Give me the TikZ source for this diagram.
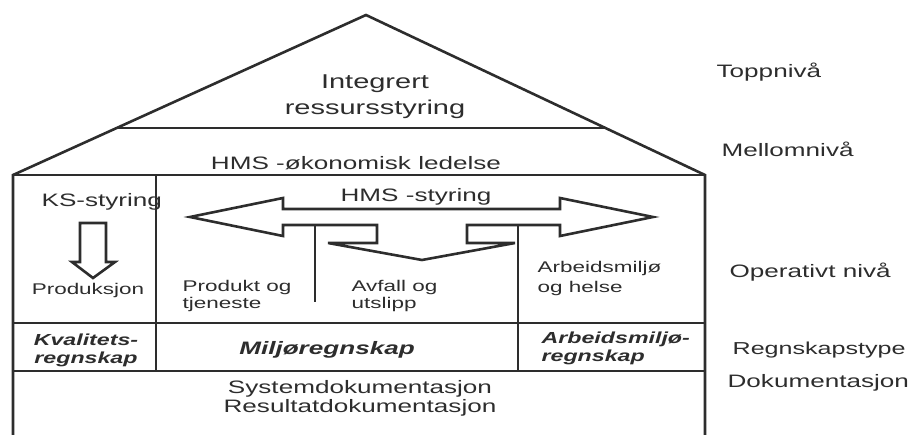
\documentclass[tikz,border=0pt]{standalone}
\usepackage{fontspec}
\setmainfont{Liberation Sans}[FakeStretch=1.45]
\usepackage{tikz}
\usetikzlibrary{calc}
\definecolor{inkgray}{RGB}{45,45,45}

\begin{document}
\begin{tikzpicture}[x=1pt, y=-1pt, color=inkgray, line width=2.6pt,
  big/.style={font=\fontsize{20}{26}\selectfont, align=center, anchor=base},
  lbl/.style={font=\fontsize{18}{19}\selectfont, anchor=base},
  sml/.style={font=\fontsize{15.5}{17}\selectfont, align=left, anchor=base west},
  acct/.style={font=\fontsize{16}{18.5}\bfseries\itshape\selectfont, anchor=base}]
  \useasboundingbox (0,0) rectangle (911,435);
  \coordinate (apex) at (366,15);
  \coordinate (eaveL) at (13,175);
  \coordinate (eaveR) at (705,175);
  \draw (13,435) -- (eaveL) -- (apex) -- (eaveR) -- (705,435);
  \draw ($(apex)!0.706!(eaveL)$) -- ($(apex)!0.706!(eaveR)$);
  \draw (eaveL) -- (eaveR);
  \foreach \y in {323,371} \draw (13,\y) -- (705,\y);
  \draw (156,175) -- (156,371);
  \node[big] (integ) at (375,115) {Integrert\\ressursstyring};
  \node[lbl] (okled) at (356,170) {HMS -økonomisk ledelse};
  \node[lbl, anchor=base west] (ksstyr) at (37,207) {KS-styring};
  \draw (80,223) -- (106,223) -- (106,262) -- (115,262) -- (93,278) -- (72,262) -- (80,262) -- cycle;
  \node[sml, anchor=base] (prod) at (88,295) {Produksjon};
  \node[lbl] (hmsstyr) at (416,202) {HMS -styring};
  \draw (190,217) -- (283,198) -- (283,209) -- (560,209) -- (560,198) -- (653,217)
    -- (560,236) -- (560,225) -- (467,225) -- (467,243) -- (515,243) -- (422,260)
    -- (328,243) -- (377,243) -- (377,225) -- (283,225) -- (283,236) -- cycle;
  \draw (315,225) -- (315,302);
  \draw (518,225) -- (518,371);
  \node[sml] (prodtj) at (178,309) {Produkt og\\tjeneste};
  \node[sml] (avfall) at (347,309) {Avfall og\\utslipp};
  \node[sml, font=\fontsize{15.5}{20}\selectfont] (amhelse) at (533,293) {Arbeidsmiljø\\og helse};
  \node[acct, align=center] (ksregn) at (86,364) {Kvalitets-\\regnskap};
  \node[acct, font=\fontsize{18}{20}\bfseries\itshape\selectfont] (miljregn) at (327,355) {Miljøregnskap};
  \node[acct, align=left, anchor=base west] (amregn) at (537,362) {Arbeidsmiljø-\\regnskap};
  \node[lbl, align=center] (dok) at (360,413) {Systemdokumentasjon\\Resultatdokumentasjon};
  \node[lbl, anchor=base west] (topp) at (712,78) {Toppnivå};
  \node[lbl, anchor=base west] (mellom) at (717,157) {Mellomnivå};
  \node[lbl, anchor=base west] (oper) at (725,278) {Operativt nivå};
  \node[lbl, anchor=base west, font=\fontsize{17.3}{19}\selectfont] (regntype) at (728,355) {Regnskapstype};
  \node[lbl, anchor=base west] (dokniv) at (723,388) {Dokumentasjon};
\end{tikzpicture}
\end{document}
